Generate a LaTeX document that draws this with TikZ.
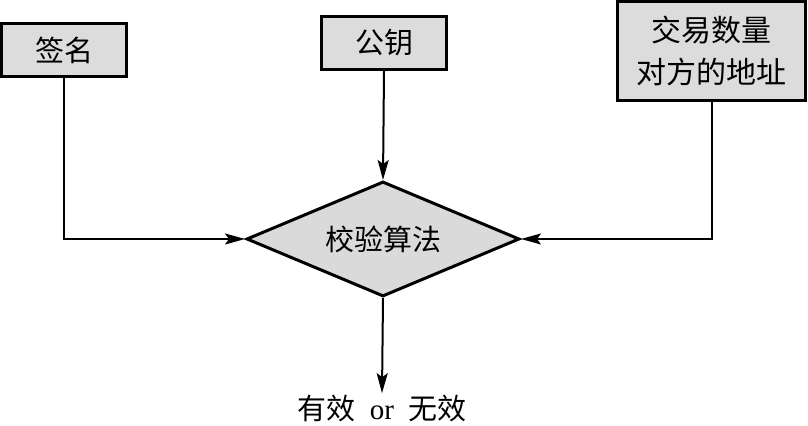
\documentclass[tikz,border=0pt]{standalone}
\usepackage{fontspec}
\setmainfont{Liberation Serif}
\newfontfamily\cjk{Noto Sans CJK SC}
\usetikzlibrary{arrows.meta, shapes.geometric}
\definecolor{inputcolor}{RGB}{220, 220, 220}
\definecolor{checkcolor}{RGB}{218, 218, 218}
\tikzset{
	inputblock/.style={
		rectangle, inner sep=0pt,
		minimum width=62.4pt, minimum height=26.4pt,
		align=center, font=\cjk\fontsize{14.5}{21}\selectfont,
		draw=black, line width=1.6pt, fill=inputcolor
	},
	checkblock/.style={
		diamond, aspect=2.4, inner sep=0pt,
		minimum width=136.5pt, minimum height=57.5pt,
		font=\cjk\fontsize{14.5}{17}\selectfont,
		draw=black, line width=1.5pt, fill=checkcolor
	},
	arrow/.style={
		-{Stealth[length=10pt, width=5.5pt, inset=2pt]}, line width=1pt, color=black
	}
}

\begin{document}
\begin{tikzpicture}[x=0.5pt, y=-0.5pt]
		\useasboundingbox (0,0) rectangle (808,426);
		
		%% ═══════════════════════════════
		%%  INPUTS
		%% ═══════════════════════════════
		\node[inputblock] (sig) at (64,50) {签名};
		\node[inputblock] (pubkey) at (384,43) {公钥};
		\node[inputblock, minimum width=94pt, minimum height=49.4pt,
		font=\cjk\fontsize{15}{21}\selectfont] (txinfo) at (711.5,51) {交易数量\\对方的地址};
		
		%% ═══════════════════════════════
		%%  CHECK + RESULT
		%% ═══════════════════════════════
		\node[checkblock] (check) at (383,239) {校验算法};
		\node[inner sep=1pt, font=\fontsize{14.5}{17}\selectfont] (result) at (382,409)
		{{\cjk 有效}\ \ or\ \ {\cjk 无效}};
		
		%% ═══════════════════════════════
		%%  ARROWS
		%% ═══════════════════════════════
		
		% signature -> check
		\draw[arrow] (sig.south) |- (check.west);
		
		% public key -> check
		\draw[arrow] (pubkey.south) -- (check.north);
		
		% amount / address -> check
		\draw[arrow] (txinfo.south) |- (check.east);
		
		% check -> result
		\draw[arrow] (check.south) -- (result.north);
	\end{tikzpicture}
\end{document}
